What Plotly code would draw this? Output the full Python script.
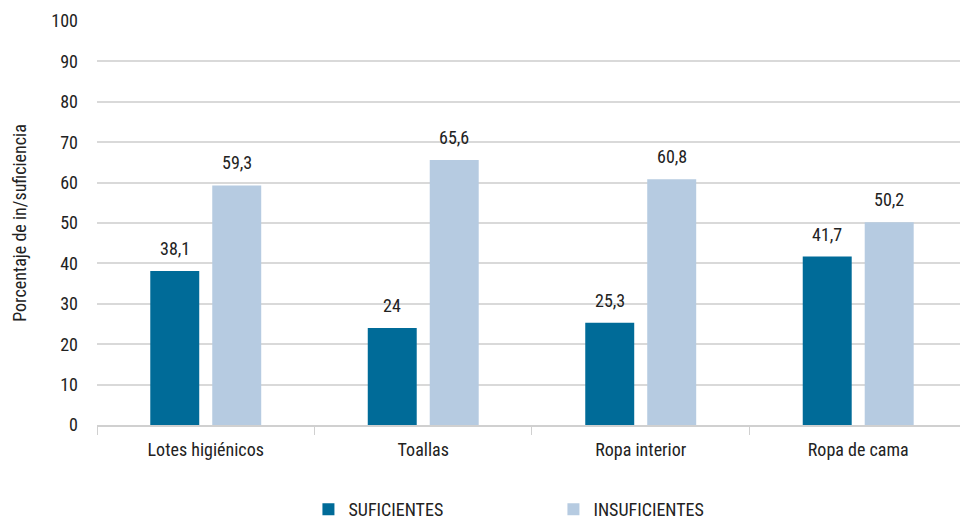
import plotly.graph_objects as go

categories = ["Lotes higiénicos", "Toallas", "Ropa interior", "Ropa de cama"]
suficientes = [38.1, 24, 25.3, 41.7]
insuficientes = [59.3, 65.6, 60.8, 50.2]
y_ticks = list(range(0, 101, 10))

DARK = "#006b98"
LIGHT = "#b6cbe1"
FONT = "Liberation Sans Narrow, Roboto Condensed, DejaVu Sans Condensed, sans-serif"
TEXT = "#222222"
SIZE = 18


def fmt(v):
    return f"{v:g}".replace(".", ",")


fig = go.Figure()
fig.add_trace(go.Bar(name="SUFICIENTES", x=categories, y=suficientes,
                     marker=dict(color=DARK, line=dict(width=0))))
fig.add_trace(go.Bar(name="INSUFICIENTES", x=categories, y=insuficientes,
                     marker=dict(color=LIGHT, line=dict(width=0))))

# value labels above each bar
for vals, shift in ((suficientes, -31), (insuficientes, 31)):
    for c, v in zip(categories, vals):
        fig.add_annotation(x=c, y=v, text=fmt(v), showarrow=False,
                           xshift=shift, yshift=10, yanchor="bottom",
                           font=dict(family=FONT, size=SIZE, color=TEXT))

fig.update_layout(
    width=960, height=521,
    margin=dict(l=97, r=0, t=21, b=96, autoexpand=False),
    paper_bgcolor="white", plot_bgcolor="white",
    barmode="group", bargap=0.43, bargroupgap=0.21,
    font=dict(family=FONT, size=SIZE, color=TEXT),
    legend=dict(orientation="h", x=0.245, xanchor="left",
                yref="container", y=0.022, yanchor="middle",
                font=dict(size=SIZE), itemwidth=30, tracegroupgap=0,
                entrywidth=200, entrywidthmode="pixels"),
    xaxis=dict(range=[-0.5, 3.468], showgrid=False, showline=True,
               linecolor="#d0d0d0", linewidth=1.5, ticks="outside",
               tickson="boundaries", ticklen=8, tickcolor="#d0d0d0",
               ticklabelstandoff=8, tickfont=dict(size=SIZE)),
    yaxis=dict(range=[0, 100], tickvals=y_ticks, showgrid=True,
               gridcolor="#d9d9d9", gridwidth=1.5, zeroline=False,
               ticks="", ticklabelstandoff=18, tickfont=dict(size=SIZE),
               title=dict(text="Porcentaje de in/suficiencia", standoff=20,
                          font=dict(size=SIZE))),
)

fig.write_html("out.html")
